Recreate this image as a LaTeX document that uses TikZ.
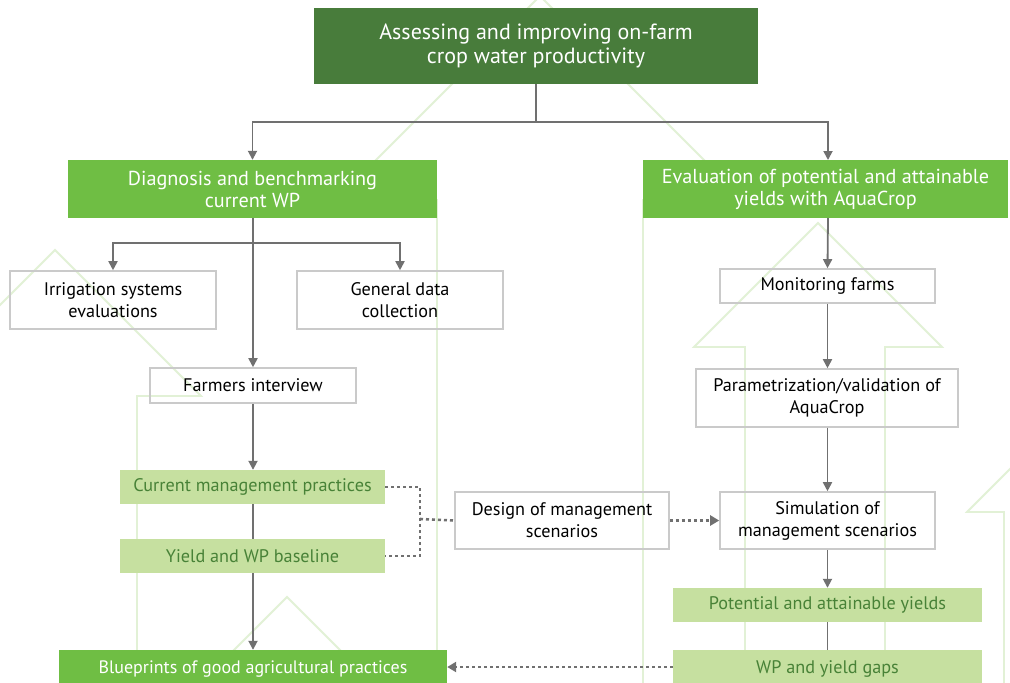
\documentclass[tikz,border=0pt]{standalone}
\usepackage{fontspec}
\setmainfont{PT Sans}
\usetikzlibrary{arrows.meta}
\definecolor{dgreen}{RGB}{72,124,59}
\definecolor{mgreen}{RGB}{111,190,68}
\definecolor{lgreen}{RGB}{198,224,160}
\definecolor{ltext}{RGB}{72,130,55}
\definecolor{bggreen}{RGB}{226,241,214}
\definecolor{boxgray}{RGB}{202,202,202}
\definecolor{linegray}{RGB}{112,112,112}
\tikzset{
  title/.style={fill=dgreen, text=white, inner sep=0pt, align=center, font=\fontsize{22}{24}\selectfont},
  hdr/.style={fill=mgreen, text=white, inner sep=0pt, align=center, font=\fontsize{20.2}{22}\selectfont},
  wbox/.style={draw=boxgray, line width=1.6pt, inner sep=0pt, align=center, font=\fontsize{18.2}{22}\selectfont},
  lbox/.style={fill=lgreen, text=ltext, inner sep=0pt, align=center, font=\fontsize{18.2}{22}\selectfont},
  bgarrow/.style={draw=bggreen, line width=1.8pt, line join=miter},
  conn/.style={draw=linegray, line width=1.8pt},
  arr/.style={conn, -{Triangle[width=9pt,length=9pt]}},
  dotc/.style={draw=linegray, line width=2.6pt, dash pattern=on 3pt off 3pt},
  dotarr/.style={dotc, -{Triangle[width=10pt,length=9pt]}}
}
\begin{document}
\begin{tikzpicture}[x=1pt,y=-1pt]
\useasboundingbox (0,0) rectangle (1010,683);
\fill[white] (0,0) rectangle (1010,683);
% background arrows
\begin{scope}
\clip (0,0) rectangle (1010,683);
\draw[bgarrow] (437,720) -- (437,200) -- (336,200) -- (540,-4) -- (744,200) -- (643,200) -- (643,720);
\draw[bgarrow] (137,720) -- (137,396) -- (201,396) -- (55,250) -- (-91,396) -- (-27,396) -- (-27,720);
\draw[bgarrow] (745,720) -- (745,347) -- (694,347) -- (818,223) -- (942,347) -- (885,347) -- (885,720);
\draw[bgarrow] (1004,720) -- (1004,512) -- (967,512) -- (1100,379);
\draw[bgarrow] (219,665) -- (287,597) -- (355,665);
\end{scope}
% nodes
\node[title, minimum width=444pt, minimum height=76pt] (t) at (536,46) {Assessing and improving on-farm\\crop water productivity};
\node[hdr, minimum width=369pt, minimum height=58pt] (d) at (252.5,189) {Diagnosis and benchmarking\\current WP};
\node[hdr, minimum width=365pt, minimum height=58pt] (e) at (825.5,189) {Evaluation of potential and attainable\\yields with AquaCrop};
\node[wbox, minimum width=206pt, minimum height=58pt] (irr) at (113,300) {Irrigation systems\\evaluations};
\node[wbox, minimum width=206pt, minimum height=58pt] (gen) at (400,300) {General data\\collection};
\node[wbox, minimum width=206pt, minimum height=35pt] (farm) at (253,385.5) {Farmers interview};
\node[lbox, minimum width=265pt, minimum height=34pt] (cur) at (252.5,487) {Current management practices};
\node[lbox, minimum width=265pt, minimum height=34pt] (yld) at (252.5,556) {Yield and WP baseline};
\node[hdr, font=\fontsize{18}{22}\selectfont, minimum width=388pt, minimum height=38pt] (blue) at (253,669) {Blueprints of good agricultural practices};
\node[wbox, minimum width=214pt, minimum height=57pt] (des) at (562,520.5) {Design of management\\scenarios};
\node[wbox, minimum width=215pt, minimum height=34pt] (mon) at (827.5,286) {Monitoring farms};
\node[wbox, minimum width=262pt, minimum height=58pt] (par) at (827,398) {Parametrization/validation of\\AquaCrop};
\node[wbox, minimum width=215pt, minimum height=57pt] (sim) at (827.5,520.5) {Simulation of\\management scenarios};
\node[lbox, minimum width=309pt, minimum height=34pt] (pot) at (827.5,605) {Potential and attainable yields};
\node[lbox, minimum width=309pt, minimum height=38pt] (gap) at (827.5,669) {WP and yield gaps};
% connectors
\coordinate (j1) at (536,122);
\coordinate (j2) at (253,243);
\coordinate (dm) at (420,519);
\draw[conn] (t.south) -- (j1);
\draw[arr] (j1) -| (d.north);
\draw[arr] (j1) -| (828,160);
\draw[conn] (j2 |- d.south) -- (j2);
\draw[arr] (j2) -| (irr.north);
\draw[arr] (j2) -| (gen.north);
\draw[arr] (j2) -- (farm.north);
\draw[arr] (farm.south) -- (farm.south |- cur.north);
\draw[conn] (cur.south -| farm.south) -- (yld.north -| farm.south);
\draw[arr] (yld.south -| farm.south) -- (farm.south |- blue.north);
\draw[arr] (828,218) -- (mon.north);
\draw[arr] (mon.south) -- (par.north -| mon.south);
\draw[arr] (par.south -| mon.south) -- (sim.north);
\draw[arr] (sim.south) -- (pot.north);
\draw[conn] (pot.south) -- (gap.north);
\draw[dotc] (cur.east) -| (dm) |- (yld.east);
\draw[dotc] (dm) -- (des.west);
\draw[dotarr] (des.east) -- (sim.west);
\draw[dotarr] (gap.west |- 0,667) -- (blue.east |- 0,667);
\end{tikzpicture}
\end{document}
